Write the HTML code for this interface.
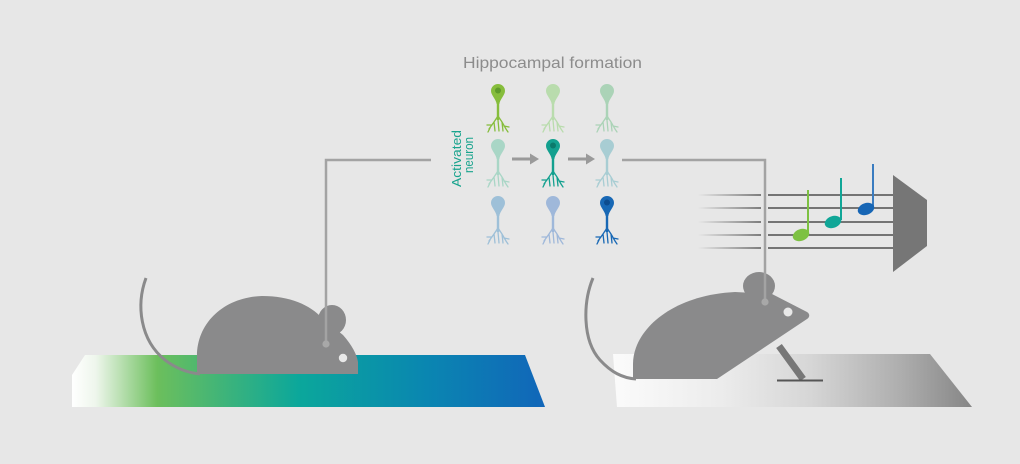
<!DOCTYPE html>
<html><head><meta charset="utf-8"><style>
html,body{margin:0;padding:0;background:#e7e7e7;}
svg{display:block;}
</style></head><body>
<svg width="1020" height="464" viewBox="0 0 1020 464" xmlns="http://www.w3.org/2000/svg">
<defs>
<linearGradient id="gmat" x1="72" y1="0" x2="545" y2="0" gradientUnits="userSpaceOnUse">
<stop offset="0" stop-color="#ffffff"/>
<stop offset="0.05" stop-color="#eef6ec"/>
<stop offset="0.18" stop-color="#6cbf5c"/>
<stop offset="0.48" stop-color="#0ba79b"/>
<stop offset="0.75" stop-color="#0a86b1"/>
<stop offset="1" stop-color="#1166b9"/>
</linearGradient>
<linearGradient id="rmat" x1="613" y1="0" x2="972" y2="0" gradientUnits="userSpaceOnUse">
<stop offset="0" stop-color="#fbfbfb"/>
<stop offset="0.3" stop-color="#ececec"/>
<stop offset="0.55" stop-color="#d6d6d6"/>
<stop offset="0.8" stop-color="#aeaeae"/>
<stop offset="1" stop-color="#868686"/>
</linearGradient>
<linearGradient id="staff" x1="698" y1="0" x2="761" y2="0" gradientUnits="userSpaceOnUse">
<stop offset="0" stop-color="#e7e7e7"/>
<stop offset="1" stop-color="#5a5a5a"/>
</linearGradient>
<g id="neuron">
<path d="M-7,0 A7,7 0 1 1 7,0 C7,4 2.2,8 1.3,13 L-1.3,13 C-2.2,8 -7,4 -7,0 Z"/>
<rect x="-1.2" y="11" width="2.4" height="18"/>
</g>
<g id="dend" fill="none" stroke-width="1.3" stroke-linecap="round" stroke-linejoin="round">
<path d="M0,25 L-4,31 L-9,38 M-4,31 L-3,40 M-6,34 L-11,34 M0,25 L4,31 L8,38 M4,31 L5,40 M0,29 L1,40 M6,35 L11,36 M-8,37 L-10,41 M8,38 L10,41"/>
</g>
</defs>

<!-- title -->
<text x="463" y="68" font-family="Liberation Sans, sans-serif" font-size="16" fill="#8c8c8c" textLength="179" lengthAdjust="spacingAndGlyphs">Hippocampal formation</text>

<!-- Activated neuron -->
<g font-family="Liberation Sans, sans-serif" font-size="13" fill="#1aa48e">
<text transform="translate(461,187) rotate(-90)" textLength="57" lengthAdjust="spacingAndGlyphs">Activated</text>
<text transform="translate(473,173) rotate(-90)" textLength="36" lengthAdjust="spacingAndGlyphs">neuron</text>
</g>

<!-- neurons -->
<g transform="translate(498,91)" fill="#86bd3c" stroke="#86bd3c"><use href="#neuron" stroke="none"/><use href="#dend"/><circle cx="0" cy="-0.5" r="3" fill="#5e9b2a" stroke="none"/></g>
<g transform="translate(553,91)" fill="#b9dcad" stroke="#b9dcad"><use href="#neuron" stroke="none"/><use href="#dend"/></g>
<g transform="translate(607,91)" fill="#abd3b7" stroke="#abd3b7"><use href="#neuron" stroke="none"/><use href="#dend"/></g>

<g transform="translate(498,146)" fill="#a9d6c6" stroke="#a9d6c6"><use href="#neuron" stroke="none"/><use href="#dend"/></g>
<g transform="translate(553,146)" fill="#13a08f" stroke="#13a08f"><use href="#neuron" stroke="none"/><use href="#dend"/><circle cx="0" cy="-0.5" r="3" fill="#0b7a6c" stroke="none"/></g>
<g transform="translate(607,146)" fill="#a8cdd3" stroke="#a8cdd3"><use href="#neuron" stroke="none"/><use href="#dend"/></g>

<g transform="translate(498,203)" fill="#9ec0d8" stroke="#9ec0d8"><use href="#neuron" stroke="none"/><use href="#dend"/></g>
<g transform="translate(553,203)" fill="#9fb8da" stroke="#9fb8da"><use href="#neuron" stroke="none"/><use href="#dend"/></g>
<g transform="translate(607,203)" fill="#1868b5" stroke="#1868b5"><use href="#neuron" stroke="none"/><use href="#dend"/><circle cx="0" cy="-0.5" r="3" fill="#0d4c8f" stroke="none"/></g>

<!-- arrows -->
<g stroke="#9a9a9a" stroke-width="3" fill="#9a9a9a">
<line x1="512" y1="159" x2="531" y2="159"/>
<polygon points="530,153.5 539,159 530,164.5" stroke="none"/>
<line x1="568" y1="159" x2="587" y2="159"/>
<polygon points="586,153.5 595,159 586,164.5" stroke="none"/>
</g>

<!-- left mat -->
<path d="M85,355 L525,355 L545,407 L72,407 L72,375 Z" fill="url(#gmat)"/>

<!-- right mat -->
<path d="M613,354 L930,354 L972,407 L617,407 Z" fill="url(#rmat)"/>

<!-- staff lines -->
<g stroke-width="1.6">
<g stroke="url(#staff)">
<line x1="698" y1="195" x2="761" y2="195"/>
<line x1="698" y1="208" x2="761" y2="208"/>
<line x1="698" y1="222" x2="761" y2="222"/>
<line x1="698" y1="235" x2="761" y2="235"/>
<line x1="698" y1="248" x2="761" y2="248"/>
</g>
<g stroke="#4e4e4e">
<line x1="768" y1="195" x2="893" y2="195"/>
<line x1="768" y1="208" x2="893" y2="208"/>
<line x1="768" y1="222" x2="893" y2="222"/>
<line x1="768" y1="235" x2="893" y2="235"/>
<line x1="768" y1="248" x2="893" y2="248"/>
</g>
</g>

<!-- speaker -->
<polygon points="893,175 927,200 927,246 893,272" fill="#767676"/>

<!-- notes -->
<g>
<line x1="808" y1="190" x2="808" y2="233" stroke="#7dc142" stroke-width="2"/>
<ellipse cx="801" cy="235" rx="8.5" ry="5.8" transform="rotate(-20 801 235)" fill="#7dc142"/>
<line x1="841" y1="178" x2="841" y2="220" stroke="#10a697" stroke-width="2"/>
<ellipse cx="833" cy="222" rx="8.5" ry="5.8" transform="rotate(-20 833 222)" fill="#10a697"/>
<line x1="873" y1="164" x2="873" y2="207" stroke="#3a7cc0" stroke-width="2"/>
<ellipse cx="866" cy="209" rx="8.5" ry="5.8" transform="rotate(-20 866 209)" fill="#1766b5"/>
</g>

<!-- tails -->
<path d="M146,278 C136,305 140,340 165,360 C178,370 190,373 200,374" fill="none" stroke="#8a8a8b" stroke-width="3"/>
<path d="M593,278 C583,302 582,340 600,360 C611,372 622,378 636,379" fill="none" stroke="#8a8a8b" stroke-width="3"/>

<!-- left mouse -->
<g fill="#8a8a8b">
<ellipse cx="332" cy="320" rx="14" ry="15"/>
<path d="M197,374 L197,356 C197,322 225,297 262,296 C290,296 310,305 322,318 L343,335 C352,345 357,355 358,362 L358,374 Z"/>
</g>
<circle cx="343" cy="358" r="4.2" fill="#e8e8e8"/>

<!-- right mouse -->
<line x1="779" y1="346" x2="803" y2="379" stroke="#777777" stroke-width="7"/>
<line x1="777" y1="380.5" x2="823" y2="380.5" stroke="#555" stroke-width="2"/>
<g fill="#8a8a8b">
<ellipse cx="759" cy="286" rx="16" ry="14"/>
<path d="M633,379 L633,364 C633,330 672,295 735,292 L772,294 L807,312 C810,314 810,317 807,319 L717,379 Z"/>
</g>
<circle cx="788" cy="312" r="4.5" fill="#e8e8e8"/>

<!-- connectors -->
<polyline points="431,160 326,160 326,344" fill="none" stroke="#a3a3a3" stroke-width="2.5"/>
<circle cx="326" cy="344" r="3.6" fill="#a8a8a8"/>
<line x1="765" y1="188" x2="765" y2="255" stroke="#e7e7e7" stroke-width="6"/>
<polyline points="622,160 765,160 765,302" fill="none" stroke="#a3a3a3" stroke-width="2.5"/>
<circle cx="765" cy="302" r="3.6" fill="#a8a8a8"/>
</svg>
</body></html>
